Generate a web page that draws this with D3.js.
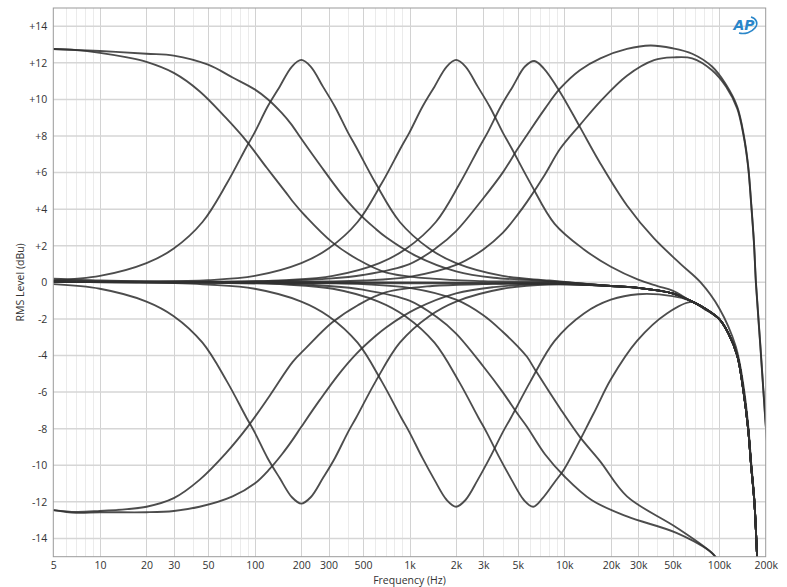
<!DOCTYPE html>
<html><head><meta charset="utf-8">
<script src="https://cdn.jsdelivr.net/npm/d3@7/dist/d3.min.js"></script>
<style>
html,body{margin:0;padding:0;background:#fff;}
svg{display:block;font-family:"Open Sans","Noto Sans","DejaVu Sans",sans-serif;}
</style></head>
<body><svg id="chart" width="787" height="587"></svg>
<script>
// ---------------- data ----------------
const freqTicks = [5,10,20,30,50,100,200,300,500,1000,2000,3000,5000,10000,20000,30000,50000,100000,200000];
const freqTickLabels = ["5","10","20","30","50","100","200","300","500","1k","2k","3k","5k","10k","20k","30k","50k","100k","200k"];
const levelTicks = [14,12,10,8,6,4,2,0,-2,-4,-6,-8,-10,-12,-14];
const levelTickLabels = ["+14","+12","+10","+8","+6","+4","+2","0","-2","-4","-6","-8","-10","-12","-14"];

// shared high-frequency roll-off of the flat response [Hz, dBu]
const highRolloff = [[20000,-0.2],[30000,-0.3],[50000,-0.6],[65000,-1.0],[80000,-1.4],[100000,-2.0],[115000,-2.8],[131000,-4.0],[144000,-6.0],[154000,-8.0],[161000,-10.0],[169000,-12.0],[176000,-15.0],[182000,-17.5]];

const bassBoostLow = [[5,12.76],[7,12.7],[10,12.55],[15,12.3],[20,12.05],[30,11.45],[44,10.45],[65,9.0],[88,7.75],[120,6.25],[158,4.95],[175,4.45],[214,3.6],[316,2.2],[464,1.25],[700,0.55],[1400,0.2],[3000,0.07],[10000,0.0]];
const bassBoostHigh = [[5,12.76],[10,12.65],[20,12.5],[30,12.4],[50,11.9],[72,11.2],[100,10.55],[122,10.0],[150,9.25],[172,8.65],[200,7.85],[265,6.4],[355,4.95],[455,3.9],[600,2.95],[710,2.45],[1100,1.45],[2000,0.6],[3500,0.25],[7000,0.1]];
const bassCutLow = [[5,-12.45],[7,-12.55],[10,-12.5],[15,-12.4],[20,-12.27],[30,-11.8],[44,-10.8],[65,-9.35],[90,-7.9],[125,-6.2],[176,-4.35],[214,-3.6],[316,-2.2],[464,-1.25],[700,-0.55],[1400,-0.2],[3000,-0.1],[7000,-0.05]];
const bassCutHigh = [[5,-12.45],[7,-12.6],[10,-12.57],[20,-12.57],[30,-12.5],[44,-12.27],[72,-11.7],[100,-11.0],[125,-10.2],[150,-9.4],[176,-8.6],[200,-7.9],[265,-6.4],[355,-4.95],[455,-3.9],[600,-2.95],[710,-2.45],[1100,-1.45],[2000,-0.6],[3500,-0.26],[7000,-0.1]];

const peak200Boost = [[5,0.12],[10,0.35],[20,1.05],[30,1.85],[46,3.3],[66,5.4],[88.5,7.4],[100,8.2],[121,9.6],[145,10.7],[174,11.8],[200,12.16],[230,11.8],[276,10.7],[330,9.6],[400,8.2],[452,7.4],[606,5.4],[866,3.3],[1340,1.85],[2000,1.05],[4000,0.35],[8000,0.1]];
const peak200Cut = [[5,-0.1],[10,-0.35],[20,-1.05],[30,-1.85],[46,-3.3],[66,-5.4],[88.5,-7.4],[100,-8.2],[121,-9.6],[145,-10.7],[174,-11.75],[200,-12.1],[230,-11.75],[276,-10.7],[330,-9.6],[400,-8.2],[452,-7.4],[606,-5.4],[866,-3.3],[1340,-1.85],[2000,-1.05],[4000,-0.35],[8000,-0.12]];
const peak2kBoost = [[5,0.05],[20,0.05],[50,0.12],[100,0.35],[200,1.05],[300,1.85],[462,3.3],[660,5.4],[885,7.4],[1000,8.2],[1212,9.6],[1450,10.7],[1740,11.8],[2000,12.16],[2300,11.8],[2760,10.7],[3300,9.6],[4000,8.2],[4520,7.4],[6060,5.4],[8660,3.2],[13400,1.8],[20000,0.85],[30000,0.15],[40000,-0.2],[50000,-0.45]];
const peak2kCut = [[5,0.05],[20,0.0],[50,-0.12],[100,-0.35],[200,-1.05],[300,-1.85],[462,-3.3],[660,-5.4],[885,-7.4],[1000,-8.2],[1212,-9.6],[1450,-10.8],[1740,-11.9],[2000,-12.27],[2300,-11.9],[2760,-10.8],[3300,-9.6],[4000,-8.2],[4520,-7.4],[6060,-5.4],[8660,-3.2],[13400,-1.7],[20000,-0.95],[30000,-0.65],[50000,-0.75]];
const peak6kBoost = [[5,0.05],[50,0.02],[160,0.12],[320,0.35],[640,1.05],[955,1.85],[1480,3.3],[2110,5.4],[2830,7.4],[3200,8.2],[3880,9.6],[4640,10.7],[5570,11.8],[6400,12.1],[7360,11.7],[9400,10.4],[12600,8.5],[17100,6.5],[25400,4.2],[38000,2.4],[56500,1.0],[76000,0.0],[100000,-1.4],[128000,-3.5],[144000,-5.7],[154000,-7.8],[161000,-9.8],[169000,-11.9],[176000,-15],[182000,-17.5]];
const peak6kCut = [[5,0.05],[50,-0.02],[160,-0.12],[320,-0.35],[630,-1.05],[940,-1.85],[1450,-3.3],[2080,-5.4],[2790,-7.4],[3150,-8.2],[3820,-9.6],[4570,-10.8],[5480,-11.9],[6300,-12.27],[7250,-11.8],[8700,-10.9],[10000,-10.2],[15400,-7.2],[20000,-5.3],[29500,-3.2],[46000,-1.7],[67000,-1.07],[80000,-1.45]];

const trebleBoostLow = [[5,0.02],[100,0.05],[300,0.2],[500,0.4],[1000,1.0],[1500,1.9],[2000,2.8],[3000,4.6],[4000,6.0],[5000,7.3],[5740,8.06],[7500,9.5],[9400,10.6],[12600,11.6],[17100,12.25],[25400,12.76],[36000,12.95],[50000,12.8],[67000,12.5],[90000,11.8],[111000,10.8],[131000,9.6],[144000,8.1],[154000,6.4],[161000,4.4],[168000,2.2],[173000,0],[185000,-3.5],[198000,-7.2],[205000,-9]];
const trebleBoostHigh = [[5,0.02],[300,0.05],[500,0.1],[1000,0.3],[2000,0.95],[3000,1.8],[4000,2.7],[5000,3.7],[5740,4.4],[7500,5.9],[9400,7.3],[12600,8.6],[17100,9.9],[25400,11.3],[38000,12.15],[51000,12.3],[67000,12.25],[90000,11.6],[111000,10.7],[131000,9.5],[144000,8.0],[154000,6.3],[161000,4.3],[168000,2.1],[173000,-0.1],[185000,-3.6],[198000,-7.3],[205000,-9]];
const trebleCutLow = [[5,0.05],[100,-0.02],[300,-0.2],[500,-0.4],[1000,-1.0],[1500,-1.9],[2000,-2.8],[3000,-4.6],[4000,-6.0],[5000,-7.2],[5740,-7.9],[7500,-9.4],[10000,-10.6],[15000,-11.9],[25400,-12.8],[53000,-13.7],[90000,-14.8],[100000,-15.3],[120000,-17]];
const trebleCutHigh = [[5,0.05],[300,-0.05],[500,-0.1],[1000,-0.3],[2000,-0.95],[3000,-1.8],[4000,-2.7],[5000,-3.5],[5740,-4.07],[6500,-4.8],[9400,-6.9],[12600,-8.45],[17100,-9.8],[25400,-11.7],[53000,-13.4],[90000,-14.8],[100000,-15.3],[120000,-17]];
const flatA = [[5,0.2],[10,0.1],[20,0.05],[100,0.02],[1000,0.0],[5000,-0.03],[10000,-0.05]];
const flatB = [[5,0.1],[10,0.0],[100,-0.03],[1000,-0.05],[10000,-0.1]];

// ---------------- build ----------------
function withTail(pts){
  const last = pts[pts.length-1][0];
  return pts.concat(highRolloff.filter(p => p[0] > last));
}
const series = [
  withTail(bassBoostLow), withTail(bassBoostHigh), withTail(bassCutLow), withTail(bassCutHigh),
  withTail(peak200Boost), withTail(peak200Cut), withTail(peak2kBoost), withTail(peak2kCut),
  peak6kBoost, withTail(peak6kCut),
  trebleBoostLow, trebleBoostHigh, trebleCutLow, trebleCutHigh,
  withTail(flatA), withTail(flatB)
];

const svg = d3.select("#chart");
const W = 787, H = 587;
const m = {left:53.3, right:W-765.7, top:8, bottom:H-556.7};
const x = d3.scaleLog().domain([5,200000]).range([m.left, W-m.right]);
const y = d3.scaleLinear().domain([-15,15]).range([H-m.bottom, m.top]);

svg.append("rect").attr("width",W).attr("height",H).attr("fill","#fff");

// minor vertical grid
const minor = [];
for (let d=1; d<=100000; d*=10){
  for (let k=1; k<=9; k++){
    const f = d*k;
    if (f>5 && f<200000 && !freqTicks.includes(f)) minor.push(f);
  }
}
const g = svg.append("g");
g.selectAll(".minor").data(minor).join("line")
  .attr("x1",d=>Math.round(x(d))+0.5).attr("x2",d=>Math.round(x(d))+0.5)
  .attr("y1",y(15)).attr("y2",y(-15))
  .attr("stroke","#ebebeb").attr("stroke-width",1);
g.selectAll(".major").data(freqTicks.slice(1,-1)).join("line")
  .attr("x1",d=>Math.round(x(d))+0.5).attr("x2",d=>Math.round(x(d))+0.5)
  .attr("y1",y(15)).attr("y2",y(-15))
  .attr("stroke","#d2d2d2").attr("stroke-width",1);
g.selectAll(".hgrid").data(levelTicks).join("line")
  .attr("x1",x(5)).attr("x2",x(200000))
  .attr("y1",d=>y(d)).attr("y2",d=>y(d))
  .attr("stroke","#d6d6d6").attr("stroke-width",1.5);

// clip
svg.append("defs").append("clipPath").attr("id","clip")
  .append("rect").attr("x",x(5)).attr("y",y(15)).attr("width",x(200000)-x(5)).attr("height",y(-15)-y(15));

const line = d3.line().x(d=>x(d[0])).y(d=>y(d[1])).curve(d3.curveCatmullRom.alpha(0.5));
svg.append("g").attr("clip-path","url(#clip)")
  .selectAll("path").data(series).join("path")
  .attr("d",line).attr("fill","none")
  .attr("stroke","#303030").attr("stroke-opacity",0.86).attr("stroke-width",1.85)
  .attr("stroke-linejoin","round");

// frame
svg.append("rect").attr("x",x(5)).attr("y",y(15)).attr("width",x(200000)-x(5)).attr("height",y(-15)-y(15))
  .attr("fill","none").attr("stroke","#9a9a9a").attr("stroke-width",1);

// axes
const xAxis = d3.axisBottom(x).tickValues(freqTicks).tickFormat((d,i)=>freqTickLabels[i]).tickSize(0).tickPadding(5);
const xa = svg.append("g").attr("transform",`translate(0,${y(-15)})`).call(xAxis);
xa.select(".domain").remove();
xa.selectAll("text").attr("font-size",10.5).attr("fill","#333").attr("font-family","'Open Sans',sans-serif");

const yAxis = d3.axisLeft(y).tickValues(levelTicks).tickFormat((d,i)=>levelTickLabels[i]).tickSize(0).tickPadding(6);
const ya = svg.append("g").attr("transform",`translate(${x(5)},0)`).call(yAxis);
ya.select(".domain").remove();
ya.selectAll("text").attr("font-size",10.5).attr("fill","#333").attr("font-family","'Open Sans',sans-serif");

svg.append("text").attr("x",(x(5)+x(200000))/2).attr("y",584)
  .attr("text-anchor","middle").attr("font-size",10.5).attr("fill","#333").text("Frequency (Hz)");
svg.append("text").attr("transform",`translate(24,${y(0)}) rotate(-90)`)
  .attr("text-anchor","middle").attr("font-size",10.5).attr("fill","#333").text("RMS Level (dBu)");

// AP logo
const logo = svg.append("g").attr("transform","translate(745,25)");
logo.append("path").attr("d","M -6,8 A 11 7.5 -15 1 0 6,-8")
  .attr("fill","none").attr("stroke","#2a86c9").attr("stroke-width",1.6);
logo.append("text").attr("x",-1).attr("y",5).attr("text-anchor","middle")
  .attr("font-size",14).attr("font-style","italic").attr("font-weight","bold")
  .attr("fill","#2a86c9").attr("font-family","'DejaVu Sans',sans-serif").text("AP");
</script></body></html>
